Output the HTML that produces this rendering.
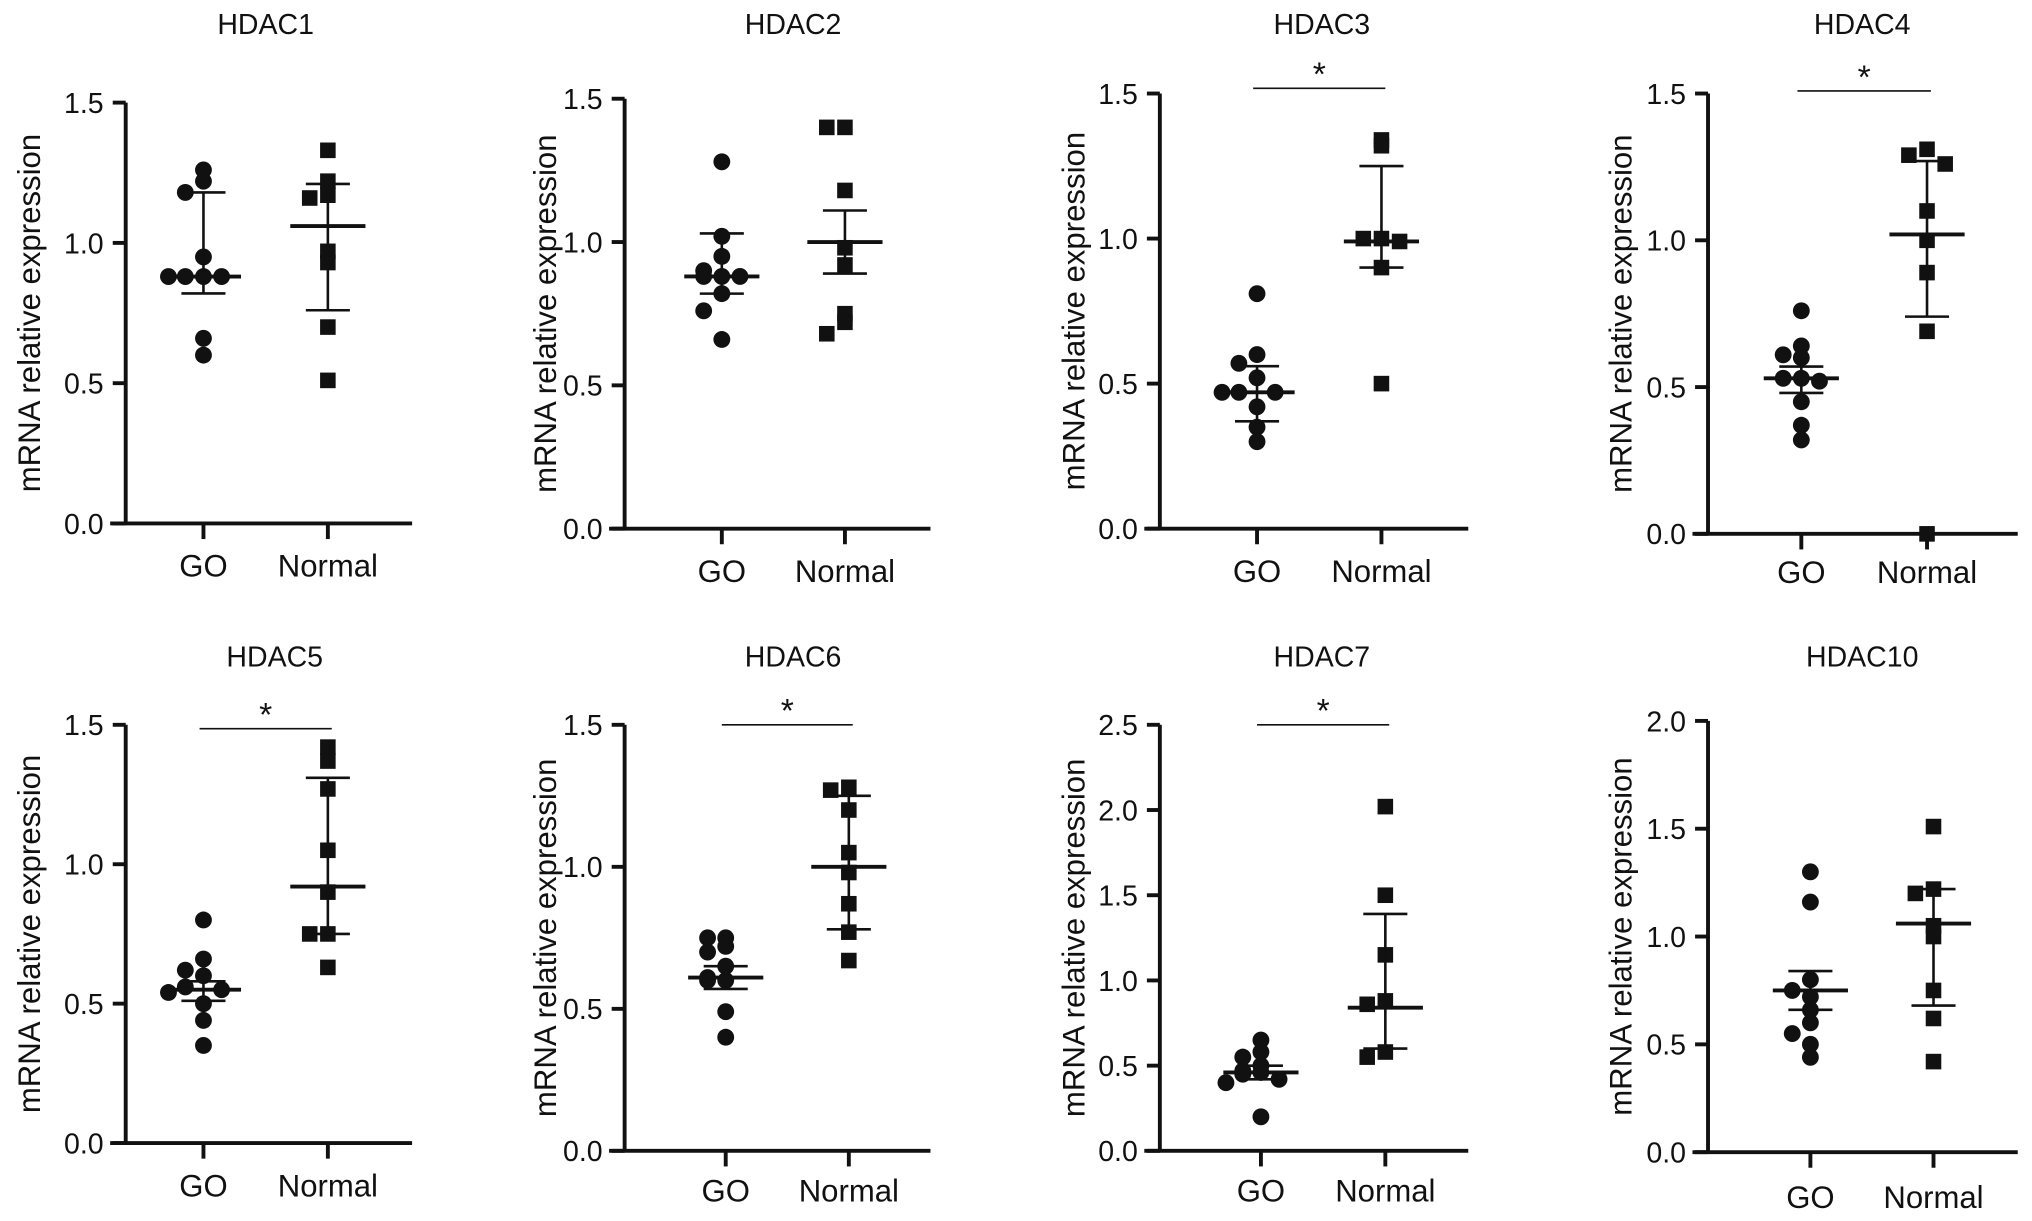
<!DOCTYPE html>
<html><head><meta charset="utf-8"><style>
html,body{margin:0;padding:0;background:#fff}
svg{display:block}
text{font-family:"Liberation Sans",Arial,sans-serif;fill:#111}
</style></head><body>
<svg id="fig" width="2032" height="1221" viewBox="0 0 1568 940" preserveAspectRatio="none" xmlns="http://www.w3.org/2000/svg"></svg>
<script>
const titles=["HDAC1","HDAC2","HDAC3","HDAC4","HDAC5","HDAC6","HDAC7","HDAC10"];
const categories=["GO","Normal"];
const goValues=[
[1.26,1.22,1.18,0.95,0.88,0.88,0.88,0.88,0.66,0.60],
[1.28,1.02,0.95,0.90,0.88,0.88,0.88,0.82,0.76,0.66],
[0.81,0.60,0.57,0.52,0.47,0.47,0.47,0.42,0.35,0.30],
[0.76,0.64,0.61,0.60,0.53,0.53,0.52,0.45,0.37,0.32],
[0.80,0.66,0.62,0.60,0.56,0.55,0.54,0.50,0.44,0.35],
[0.75,0.75,0.72,0.70,0.65,0.61,0.60,0.60,0.49,0.40],
[0.65,0.58,0.55,0.50,0.47,0.46,0.45,0.42,0.40,0.20],
[1.30,1.16,0.80,0.75,0.72,0.66,0.60,0.55,0.50,0.44]];
const normalValues=[
[1.33,1.22,1.17,1.16,0.97,0.93,0.70,0.51],
[1.40,1.40,1.18,0.98,0.92,0.75,0.72,0.68],
[1.34,1.32,1.00,1.00,0.99,0.90,0.50],
[1.31,1.29,1.26,1.10,1.00,0.89,0.69,0.00],
[1.42,1.37,1.27,1.05,0.90,0.75,0.75,0.63],
[1.28,1.27,1.20,1.05,0.98,0.87,0.77,0.67],
[2.02,1.50,1.15,0.88,0.86,0.58,0.55],
[1.51,1.22,1.20,1.05,1.00,0.75,0.62,0.42]];
const goMean=[0.88,0.88,0.47,0.53,0.55,0.61,0.46,0.75];
const goErrLow=[0.82,0.82,0.37,0.48,0.51,0.57,0.42,0.66];
const goErrHigh=[1.18,1.03,0.56,0.57,0.58,0.65,0.50,0.84];
const normalMean=[1.06,1.00,0.99,1.02,0.92,1.00,0.84,1.06];
const normalErrLow=[0.76,0.89,0.90,0.74,0.75,0.78,0.60,0.68];
const normalErrHigh=[1.21,1.11,1.25,1.27,1.31,1.25,1.39,1.22];
const yMax=[1.5,1.5,1.5,1.5,1.5,1.5,2.5,2.0];
const yTicks=[[0,0.5,1,1.5],[0,0.5,1,1.5],[0,0.5,1,1.5],[0,0.5,1,1.5],[0,0.5,1,1.5],[0,0.5,1,1.5],[0,0.5,1,1.5,2,2.5],[0,0.5,1,1.5,2]];
const significant=[false,false,true,true,true,true,true,false];

const layout=[
{ax:97,top:79,bot:403,end:318,go:157,nm:253,tx:205,ty:26,yl:22,lab:444},
{ax:482,top:76,bot:407,end:718,go:557,nm:652,tx:612,ty:26,yl:420,lab:448},
{ax:895,top:72,bot:407,end:1133,go:970,nm:1066,tx:1020,ty:26,yl:828,lab:448,sy:68},
{ax:1318,top:72,bot:411,end:1557,go:1390,nm:1487,tx:1437,ty:26,yl:1250,lab:449,sy:70},
{ax:97,top:558,bot:880,end:318,go:157,nm:253,tx:212,ty:513,yl:22,lab:921,sy:561},
{ax:482,top:558,bot:886,end:718,go:560,nm:655,tx:612,ty:513,yl:420,lab:925,sy:558},
{ax:895,top:558,bot:886,end:1133,go:973,nm:1069,tx:1020,ty:513,yl:828,lab:925,sy:558},
{ax:1318,top:555,bot:887,end:1557,go:1397,nm:1492,tx:1437,ty:513,yl:1250,lab:930}];
const jit=[0,-14,14,-27,27,-7,7,-20,20];
const NS="http://www.w3.org/2000/svg";
const svg=document.getElementById('fig');
function mk(tag,attrs,parent){const e=document.createElementNS(NS,tag);for(const k in attrs)e.setAttribute(k,attrs[k]);(parent||svg).appendChild(e);return e;}
function jitter(vals){
  const off=[];const used={};
  vals.forEach((v,i)=>{const key=Math.round(v*14);used[key]=(used[key]||0);off.push(jit[used[key]%jit.length]);used[key]++;});
  return off;}
titles.forEach((t,p)=>{
  const L=layout[p];
  const g=mk('g',{});
  
  
  const y=v=>L.bot-(v/yMax[p])*(L.bot-L.top);
  const tt=mk('text',{x:L.tx,y:L.ty,'text-anchor':'middle','font-size':22},g);tt.textContent=t;
  
  
  const yl=mk('text',{x:0,y:0,'text-anchor':'middle','font-size':24,transform:`translate(${L.yl+9},${(L.top+L.bot)/2}) rotate(-90)`},g);yl.textContent='mRNA relative expression';
  
  
  const axes=mk('g',{stroke:'#111','stroke-width':3,fill:'none'},g);
  
  
  mk('line',{x1:L.ax,y1:L.top,x2:L.ax,y2:L.bot},axes);
  mk('line',{x1:L.ax-12,y1:L.bot,x2:L.end,y2:L.bot},axes);
  yTicks[p].forEach(v=>{
    mk('line',{x1:L.ax-10,y1:y(v),x2:L.ax,y2:y(v)},axes);
    const tl=mk('text',{x:L.ax-17,y:y(v)+8,'text-anchor':'end','font-size':22},g);tl.textContent=v.toFixed(1);
    
    
  });
  [L.go,L.nm].forEach((cx,ci)=>{
    mk('line',{x1:cx,y1:L.bot,x2:cx,y2:L.bot+12},axes);
    const xl=mk('text',{x:cx,y:L.lab,'text-anchor':'middle','font-size':24},g);xl.textContent=categories[ci];
    
    
  });
  const go=goValues[p],go_off=jitter(go);
  go.forEach((v,i)=>{const c=mk('circle',{cx:L.go+go_off[i],cy:y(v),r:6.5,fill:'#111'},g);
    
    });
  const nv=normalValues[p],nv_off=jitter(nv);
  nv.forEach((v,i)=>{const s=mk('rect',{x:L.nm+nv_off[i]-6,y:y(v)-6,width:12,height:12,fill:'#111'},g);
    
    });
  [[L.go,goMean[p],goErrLow[p],goErrHigh[p],'go'],[L.nm,normalMean[p],normalErrLow[p],normalErrHigh[p],'normal']].forEach(([cx,m,lo,hi,nm])=>{
    const eg=mk('g',{stroke:'#111',fill:'none'},g);
    
    
    mk('line',{x1:cx-29,y1:y(m),x2:cx+29,y2:y(m),'stroke-width':3},eg);
    mk('line',{x1:cx,y1:y(lo),x2:cx,y2:y(hi),'stroke-width':2},eg);
    mk('line',{x1:cx-17,y1:y(lo),x2:cx+17,y2:y(lo),'stroke-width':2},eg);
    mk('line',{x1:cx-17,y1:y(hi),x2:cx+17,y2:y(hi),'stroke-width':2},eg);
  });
  if(significant[p]){
    const sg=mk('g',{},g);
    
    
    mk('line',{x1:L.go-3,y1:L.sy,x2:L.nm+3,y2:L.sy,stroke:'#111','stroke-width':1.2},sg);
    const st=mk('text',{x:(L.go+L.nm)/2,y:L.sy-2,'text-anchor':'middle','font-size':26},sg);st.textContent='*';
  }
});
</script>
</body></html>
